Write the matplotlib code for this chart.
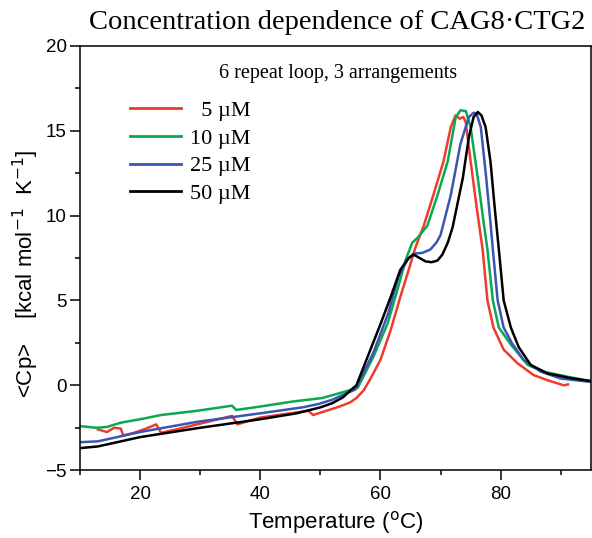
import matplotlib
matplotlib.use("Agg")
import matplotlib.pyplot as plt
from matplotlib.ticker import MultipleLocator, FixedLocator

# temperature (C) and excess heat capacity (kcal/mol/K)
t_5 = [13, 14.5, 15.7, 16.8, 17.2, 19, 21, 22.7, 23.5, 26, 29.5, 33, 35.3, 36.2,
       38, 40, 44, 48, 48.8, 51, 53.2, 55, 56, 57.2, 58.2, 60, 61.7, 63.3, 64.7,
       65.8, 67.2, 68.8, 70.5, 71.7, 72.5, 73.2, 73.8, 74.2, 75, 76, 77, 77.8,
       78.8, 80.5, 82.8, 85.5, 87.8, 90.5, 91.2]
cp_5 = [-2.6, -2.75, -2.5, -2.55, -2.95, -2.8, -2.55, -2.3, -2.8, -2.6, -2.3,
        -2.0, -1.8, -2.3, -2.1, -1.9, -1.7, -1.5, -1.75, -1.5, -1.25, -1.0,
        -0.75, -0.3, 0.3, 1.5, 3.25, 5.2, 6.8, 8.1, 9.4, 11.2, 13.2, 15.2, 15.9,
        15.7, 15.8, 15.5, 13.2, 10.5, 8.0, 5.0, 3.4, 2.1, 1.3, 0.6, 0.3, 0.0, 0.05]

t_10 = [10, 12.7, 14.5, 16.8, 20, 23.5, 29.5, 35.3, 36, 40, 45.5, 50.3, 53.8,
        56.2, 58.8, 61.2, 62.8, 64.2, 65.3, 66.2, 67.8, 69.5, 71.2, 72.5, 73.3,
        74.2, 75, 76.2, 77.2, 77.8, 78.7, 79.7, 81.7, 84.5, 87.2, 91.2, 95]
cp_10 = [-2.4, -2.5, -2.45, -2.2, -2.0, -1.75, -1.5, -1.2, -1.45, -1.25, -0.95,
         -0.75, -0.4, -0.15, 1.66, 3.65, 5.6, 7.4, 8.4, 8.7, 9.4, 11.2, 13.2,
         15.75, 16.2, 16.15, 15.2, 12.2, 9.5, 8.0, 5.0, 3.4, 2.4, 1.2, 0.8, 0.5,
         0.25]

t_25 = [10, 13, 20, 29.5, 40, 47, 49.7, 52, 53.2, 55.8, 58.8, 61.3, 63, 64.5,
        65.5, 67, 68.3, 69.3, 70, 71.7, 73.3, 74.7, 75.5, 76, 76.7, 77.6, 78.3,
        78.7, 79.5, 80.5, 81.9, 83.8, 86.7, 90, 95]
cp_25 = [-3.35, -3.3, -2.75, -2.15, -1.65, -1.3, -1.1, -0.85, -0.65, -0.25, 1.9,
         4.25, 6.4, 7.4, 7.75, 7.8, 8.0, 8.4, 8.85, 11.2, 14.2, 15.8, 16.05,
         16.0, 15.2, 12.2, 9.6, 8.0, 5.0, 3.4, 2.47, 1.5, 0.8, 0.4, 0.2]

t_50 = [10, 13, 20, 30, 40, 46, 50, 52, 53.8, 55, 56, 58.3, 60, 61.7, 63.3,
        64.7, 65.5, 66.5, 67.5, 68.5, 69.5, 70.3, 71.2, 72, 73.7, 74.7, 75.5,
        76.2, 76.8, 77.5, 78.3, 79.0, 79.7, 80.5, 81.7, 83, 85, 87.8, 91.7, 95]
cp_50 = [-3.7, -3.6, -3.05, -2.5, -2.0, -1.65, -1.3, -1.05, -0.7, -0.3, 0.0,
         2.07, 3.6, 5.2, 6.8, 7.5, 7.7, 7.5, 7.3, 7.25, 7.35, 7.7, 8.4, 9.3,
         12.2, 14.6, 15.8, 16.1, 15.9, 15.2, 13.2, 10.5, 8.0, 5.0, 3.4, 2.25,
         1.2, 0.7, 0.42, 0.25]

labels = ["  5 \u00b5M", "10 \u00b5M", "25 \u00b5M", "50 \u00b5M"]
colors = ["#ee3b2e", "#0aa84f", "#3a56b5", "#000000"]

SANS = "Liberation Sans"
SERIF = "Liberation Serif"


def main() -> None:
    fig = plt.figure(figsize=(5.92, 5.38), dpi=100)
    ax = fig.add_axes([0.135, 0.126, 0.863, 0.789])

    series = [(t_5, cp_5), (t_10, cp_10), (t_25, cp_25), (t_50, cp_50)]
    for (t, cp), lab, col in zip(series, labels, colors):
        ax.plot(t, cp, color=col, lw=1.8, label=lab)

    ax.set_xlim(10, 95)
    ax.set_ylim(-5, 20)

    ax.xaxis.set_major_locator(FixedLocator([20, 40, 60, 80]))
    ax.xaxis.set_minor_locator(FixedLocator([10, 30, 50, 70, 90]))
    ax.yaxis.set_major_locator(MultipleLocator(5))
    ax.yaxis.set_minor_locator(MultipleLocator(2.5))
    ax.tick_params(which="both", direction="out", width=1.1, top=False, right=False)
    ax.tick_params(which="major", length=7.5)
    ax.tick_params(which="minor", length=3.6)
    ax.tick_params(axis="x", which="major", pad=4)
    ax.tick_params(axis="y", which="major", pad=2)
    for lbl in ax.get_xticklabels() + ax.get_yticklabels():
        lbl.set_family(SANS)
        lbl.set_fontsize(13.5)
    for sp in ax.spines.values():
        sp.set_linewidth(1.1)

    ax.set_xlabel("Temperature ($^{\\rm o}$C)", family=SANS, fontsize=16, labelpad=4)
    ax.set_ylabel("<Cp>    [kcal mol$^{-1}$  K$^{-1}$]", family=SANS, fontsize=16)
    ax.yaxis.set_label_coords(-0.076, 0.462)

    fig.text(0.57, 0.958, "Concentration dependence of CAG8\u00b7CTG2",
             family=SERIF, fontsize=20.5, ha="center", va="center")
    ax.text(0.505, 0.935, "6 repeat loop, 3 arrangements", transform=ax.transAxes,
            family=SERIF, fontsize=14.5, ha="center", va="center")

    leg = ax.legend(loc="upper left", bbox_to_anchor=(0.058, 0.918), frameon=False,
                    prop={"family": SERIF, "size": 16},
                    handlelength=2.3, handletextpad=0.4, labelspacing=0.32)
    for line in leg.get_lines():
        line.set_linewidth(2.0)

    fig.savefig("out.png", dpi=100)


if __name__ == "__main__":
    main()
